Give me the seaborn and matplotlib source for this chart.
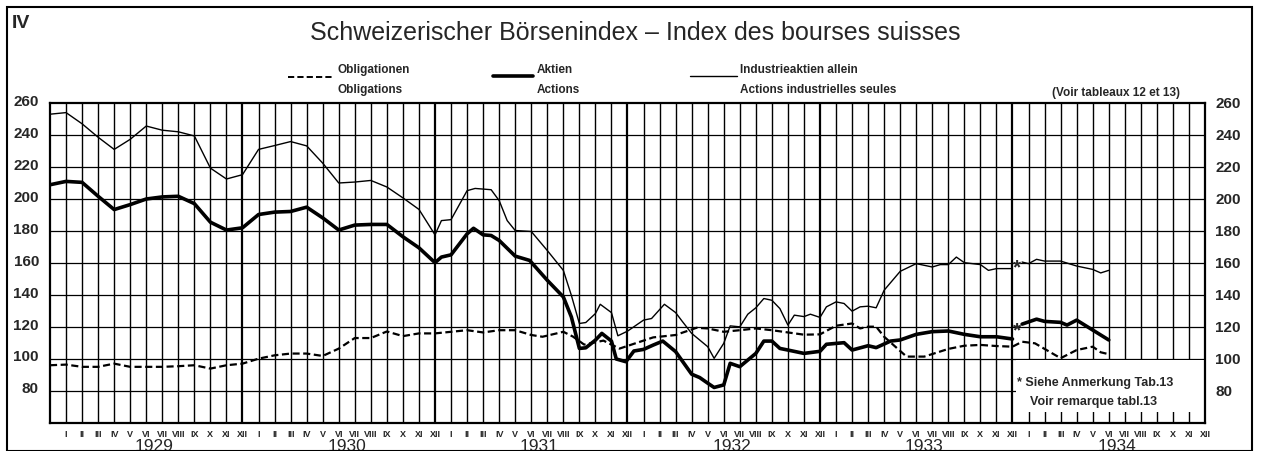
import matplotlib
matplotlib.use("Agg")
import matplotlib.pyplot as plt
import matplotlib.transforms as mtransforms
from matplotlib.lines import Line2D
from matplotlib.patches import Rectangle
import seaborn as sns

# months counted from the left edge (0 = end of 1928, 12 = end of 1929 ...)
oblig_m = [0, 1, 2, 3, 4, 5, 6, 7, 8, 9, 10, 11, 12, 13, 14, 15, 16, 17, 18, 19, 20, 21, 22, 23,
           24, 25, 26, 27, 28, 29, 30, 30.7, 32, 32.6, 33.3, 34.5, 35.5, 37.6, 39, 40.3, 41, 42,
           43, 44, 45, 46, 47, 48, 49, 50, 50.5, 51, 51.5, 52, 53, 53.4, 54.5, 56, 57, 58, 59, 60,
           60.6, 61.4, 63, 64, 65, 65.5, 66]
oblig_v = [96.1, 96.5, 95.1, 95.1, 97.1, 95.1, 95.1, 95.1, 95.5, 96.1, 94, 96.1, 97.1, 100.2,
           102.3, 103.4, 103.4, 101.9, 106.5, 113.1, 113.1, 117.2, 114.3, 116,
           116, 117, 118, 116.6, 118, 118, 115, 113.9, 117, 114, 109, 111.5, 106.5, 113.5, 115,
           119.5, 119.1, 117, 118, 119.1, 118, 116.6, 115.2, 115.4, 120.8, 122.2, 119.1, 120.2,
           120.2, 113.9, 105, 101.5, 101.5, 106.3, 108.3, 108.8, 108.1, 107.7,
           110.8, 109.8, 100.5, 105.6, 107.7, 104.2, 103]

aktien_m = [0, 1, 2, 3, 4, 5, 6, 7, 8, 9, 10, 11, 12, 13, 14, 15, 16, 17, 18, 19, 20, 21, 22, 23,
            24, 24.4, 25, 26, 26.4, 27, 27.5, 28, 29, 29.9, 31, 32, 32.5, 33, 33.4, 34, 34.4, 35,
            35.3, 35.9, 36.4, 37, 37.6, 38.2, 39, 40, 40.5, 41, 41.4, 42, 42.4, 43, 44, 44.5, 45,
            45.5, 46, 47, 48, 48.4, 49.5, 50, 51, 51.5, 52.4, 53, 54, 55, 56, 57, 58, 59, 60]
aktien_v = [208.9, 211, 210.4, 201.7, 193.4, 196.5, 200, 201.3, 201.7, 197.1, 185.5, 180.6, 182,
            190.3, 191.8, 192.2, 194.9, 188.2, 180.6, 183.7, 184.1, 184.1, 176.4, 169.5,
            160.2, 163.7, 165.1, 178.2, 181.7, 177.6, 177.2, 174.1, 164.3, 161.6, 149.2, 138.8,
            126.3, 106.6, 107, 111.8, 116, 111.2, 100, 98.3, 105, 106, 108.7, 111.2, 104.6, 90.5,
            88.4, 84.9, 82.2, 83.8, 97.3, 95.2, 103.5, 111.2, 111.2, 106.6, 105.6, 103.5, 104.8,
            109.2, 110.2, 105.6, 108.3, 107.1, 111.2, 111.9, 115.4, 117.1, 117.5, 115.4, 113.9,
            113.9, 112.5]
aktien34_m = [60.6, 61.5, 62, 63, 63.4, 64, 65, 66]
aktien34_v = [121.8, 124.9, 123.5, 122.9, 121.2, 124.3, 118.1, 111.9]

indus_m = [0, 1, 2, 3, 4, 5, 6, 7, 8, 9, 10, 11, 12, 13, 14, 15, 16, 17, 18, 19, 20, 21, 22, 23,
           24, 24.4, 25, 26, 26.5, 27.5, 28, 28.5, 29, 30, 31, 32, 32.5, 33, 33.4, 34, 34.3, 35,
           35.4, 36, 37, 37.5, 38.3, 39, 39.4, 40, 41, 41.4, 42, 42.4, 43, 43.5, 44, 44.5, 45,
           45.5, 46, 46.4, 47, 47.4, 48, 48.4, 49, 49.5, 50, 50.5, 51, 51.5, 52, 53, 54, 55, 55.5,
           56, 56.5, 57, 58, 58.5, 59, 60]
indus_v = [253, 254, 247, 238.6, 231, 237.3, 245.6, 243, 242, 239.4, 219.3, 212.5, 215.2, 231,
           233.4, 235.9, 233.2, 222.4, 210, 210.6, 211.6, 207.5, 200.7, 193.5,
           177.6, 186.5, 187.1, 205.2, 206.6, 205.8, 199, 186.5, 180.3, 179.7, 167.8, 155.4,
           139.8, 122.2, 122.8, 128.4, 134.2, 129, 114.5, 117.4, 124.3, 125.3, 134.2, 129, 123.7,
           116, 107.7, 100.4, 109.8, 120.7, 120.1, 128, 132, 137.8, 136.7, 131.5, 121.2, 127.4,
           126.5, 128, 126, 132.6, 135.7, 134.7, 129.9, 132.6, 133, 132, 143, 154.8, 159.6,
           157.5, 159, 159, 163.7, 160.2, 159, 155.4, 156.5, 156.5]
indus34_m = [60.6, 61, 61.5, 62, 63, 64, 65, 65.5, 66]
indus34_v = [160.6, 159.6, 162.3, 161.2, 161.2, 158.1, 156, 153.8, 155.4]

months = ["I", "II", "III", "IV", "V", "VI", "VII", "VIII", "IX", "X", "XI", "XII"]
years = ["1929", "1930", "1931", "1932", "1933", "1934"]
yticks = [80, 100, 120, 140, 160, 180, 200, 220, 240, 260]

sns.set_style("white")
plt.rcParams['font.family'] = ['Liberation Sans', 'DejaVu Sans']

W, H = 1261, 452
fig = plt.figure(figsize=(W / 100, H / 100), dpi=100)
ax = fig.add_axes([50 / W, (H - 424) / H, 1155 / W, 320 / H])

def fx(px):
    return px / W

def fy(py):
    return 1 - py / H

# grid
for m in range(1, 72):
    ax.axvline(m, color='black', lw=1.6 if m % 12 == 0 else 1.0, zorder=1)
for v in yticks[:-1]:
    ax.axhline(v, color='black', lw=0.9, zorder=1)

# white box for the note
ax.add_patch(Rectangle((60.2, 67), 11.8, 32.2, facecolor='white', edgecolor='none', zorder=2))

sns.lineplot(x=oblig_m, y=oblig_v, ax=ax, color='black', lw=1.6, estimator=None, sort=False,
             linestyle=(0, (3.2, 1.6)), zorder=3)
sns.lineplot(x=aktien_m, y=aktien_v, ax=ax, color='black', lw=2.6, estimator=None, sort=False, zorder=4)
sns.lineplot(x=aktien34_m, y=aktien34_v, ax=ax, color='black', lw=2.6, estimator=None, sort=False, zorder=4)
sns.lineplot(x=indus_m, y=indus_v, ax=ax, color='black', lw=1.0, estimator=None, sort=False, zorder=4)
sns.lineplot(x=indus34_m, y=indus34_v, ax=ax, color='black', lw=1.0, estimator=None, sort=False, zorder=4)

ax.text(60.3, 157.5, "*", fontsize=15, fontweight='bold', ha='center', va='center', zorder=5)
ax.text(60.3, 118.5, "*", fontsize=15, fontweight='bold', ha='center', va='center', zorder=5)

ax.text(60.25, 85.6, "* Siehe Anmerkung Tab.13", fontsize=9, fontweight='bold',
        ha='left', va='center', zorder=5)
ax.text(61.1, 73.8, "Voir remarque tabl.13", fontsize=9, fontweight='bold',
        ha='left', va='center', zorder=5)

ax.set_xlim(0, 72)
ax.set_ylim(60, 260)
ax.set_xlabel("")
ax.set_ylabel("")
for s in ax.spines.values():
    s.set_visible(True)
    s.set_color('black')
    s.set_linewidth(1.6)

ax.set_xticks(range(1, 73))
ax.set_xticklabels(months * 6, fontsize=6.5, fontweight='bold',
                   family=['Liberation Sans Narrow', 'Liberation Sans'])
ax.tick_params(axis='x', length=0, pad=4)

ax.set_yticks(yticks)
ax.set_yticklabels([str(v) for v in yticks], fontsize=11, fontweight='bold')
ax.tick_params(axis='y', length=0, pad=8, left=False, right=False,
               labelleft=True, labelright=True)
for t in ax.yaxis.get_major_ticks():
    t.label1.set_transform(t.label1.get_transform() +
                           mtransforms.ScaledTranslation(0, 4 / 100, fig.dpi_scale_trans))
    t.label2.set_transform(t.label2.get_transform() +
                           mtransforms.ScaledTranslation(-1 / 100, 1.5 / 100, fig.dpi_scale_trans))

trans = mtransforms.blended_transform_factory(ax.transData, fig.transFigure)
for i, y in enumerate(years):
    ax.text(6.5 + 12 * i, fy(447), y, transform=trans, fontsize=12.5,
            ha='center', va='center')

# outer frame
fig.add_artist(Rectangle((fx(7), 0), fx(1245), fy(8), transform=fig.transFigure,
                         fill=False, edgecolor='black', lw=1.5))

fig.text(fx(12), fy(24), "IV", fontsize=14, fontweight='bold', ha='left', va='center')
fig.text(fx(635), fy(33), "Schweizerischer Börsenindex – Index des bourses suisses",
         fontsize=18, ha='center', va='center')

# legend
fig.add_artist(Line2D([fx(288), fx(333)], [fy(78), fy(78)], color='black', lw=1.4,
                      linestyle=(0, (3.2, 1.6))))
fig.add_artist(Line2D([fx(493), fx(533)], [fy(77), fy(77)], color='black', lw=2.6))
fig.add_artist(Line2D([fx(690), fx(737)], [fy(77), fy(77)], color='black', lw=1.0))
leg_kw = dict(fontsize=8.5, fontweight='bold', ha='left', va='center')
fig.text(fx(338), fy(70), "Obligationen", **leg_kw)
fig.text(fx(338), fy(90), "Obligations", **leg_kw)
fig.text(fx(537), fy(70), "Aktien", **leg_kw)
fig.text(fx(537), fy(90), "Actions", **leg_kw)
fig.text(fx(740), fy(70), "Industrieaktien allein", **leg_kw)
fig.text(fx(740), fy(90), "Actions industrielles seules", **leg_kw)
fig.text(fx(1052), fy(93), "(Voir tableaux 12 et 13)", fontsize=8.5, fontweight='bold',
         ha='left', va='center')

fig.savefig("out.png", dpi=100)
